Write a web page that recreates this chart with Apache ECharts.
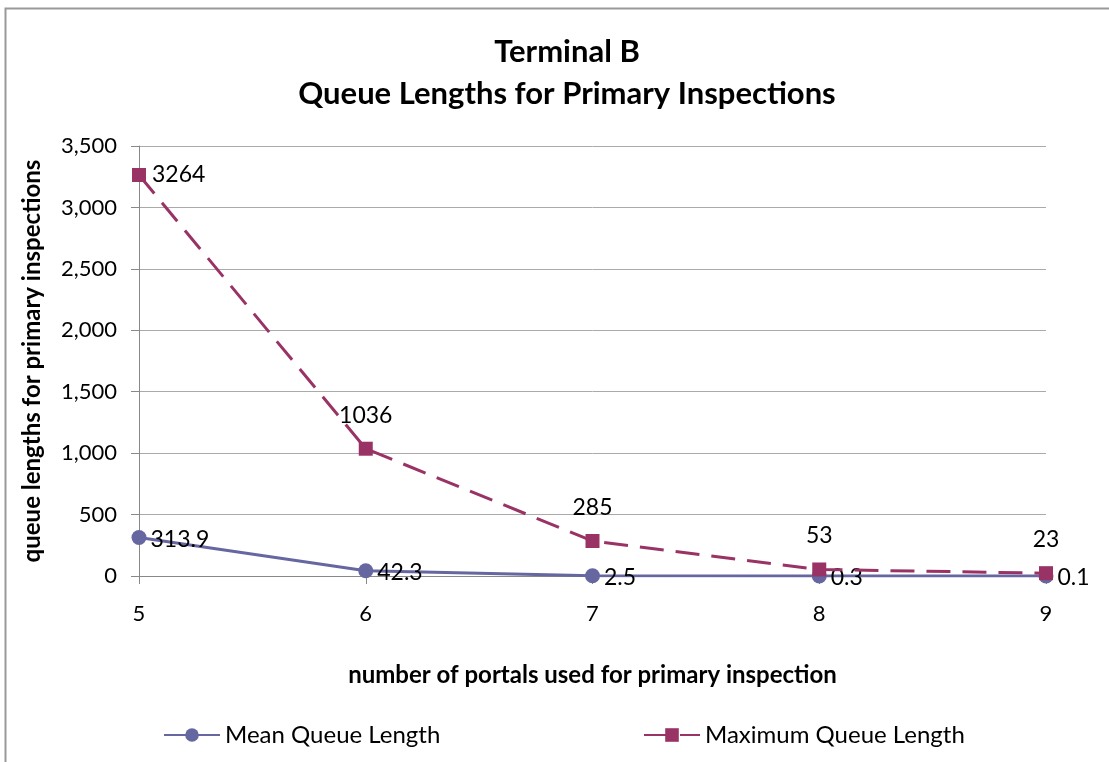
<!DOCTYPE html>
<html>
<head>
<meta charset="utf-8">
<script src="https://cdn.jsdelivr.net/npm/echarts@6/dist/echarts.min.js"></script>
<style>
  html, body { margin: 0; padding: 0; background: #fff; }
  #chart { width: 1109px; height: 762px; }
</style>
</head>
<body>
<div id="chart"></div>
<script>
const portals = ['5', '6', '7', '8', '9']
const meanQueue = [313.9, 42.3, 2.5, 0.3, 0.1]
const maxQueue = [3264, 1036, 285, 53, 23]
const yTicks = [0, 500, 1000, 1500, 2000, 2500, 3000, 3500]

const font = 'Lato, "Open Sans", sans-serif'
const meanColor = '#6667a0'
const maxColor = '#993366'

const chart = echarts.init(document.getElementById('chart'))

const option = {
  animation: false,
  backgroundColor: '#fff',
  textStyle: { fontFamily: font },
  title: {
    text: 'Terminal B\nQueue Lengths for Primary Inspections',
    left: 562,
    textAlign: 'center',
    top: 26,
    textStyle: { fontSize: 31, fontWeight: 'bold', color: '#000', lineHeight: 42, fontFamily: font },
  },
  graphic: [
    {
      type: 'rect',
      shape: { x: 5.5, y: 8.5, width: 1200, height: 900 },
      style: { fill: 'none', stroke: '#999', lineWidth: 2 },
      silent: true,
    },
  ],
  legend: [
    {
      data: ['Mean Queue Length'],
      left: 158,
      top: 718,
      itemWidth: 56,
      itemHeight: 17,
      itemGap: 8,
      textStyle: { fontSize: 24, color: '#000', fontFamily: font },
    },
    {
      data: ['Maximum Queue Length'],
      left: 638,
      top: 718,
      itemWidth: 56,
      itemHeight: 17,
      textStyle: { fontSize: 24, color: '#000', fontFamily: font },
    },
  ],
  grid: { left: 139, right: 63, top: 146, bottom: 186 },
  xAxis: {
    type: 'category',
    data: portals,
    boundaryGap: false,
    name: 'number of portals used for primary inspection',
    nameLocation: 'middle',
    nameGap: 87,
    nameTextStyle: { fontSize: 24, fontWeight: 'bold', color: '#000', fontFamily: font },
    axisLine: { lineStyle: { color: '#888', width: 1 } },
    axisTick: { show: true, length: 8, lineStyle: { color: '#888' } },
    axisLabel: { fontSize: 22, color: '#000', margin: 27 },
    splitLine: { show: false },
  },
  yAxis: {
    type: 'value',
    min: 0,
    max: 3500,
    interval: 500,
    name: 'queue lengths for primary inspections',
    nameLocation: 'middle',
    nameGap: 95,
    nameTextStyle: { fontSize: 24, fontWeight: 'bold', color: '#000', fontFamily: font },
    axisLine: { show: true, lineStyle: { color: '#888' } },
    axisTick: { show: true, length: 8, lineStyle: { color: '#888' } },
    axisLabel: {
      fontSize: 22,
      color: '#000',
      margin: 22,
      formatter: (v) => yTicks.includes(v) ? v.toLocaleString('en-US') : '',
    },
    splitLine: { lineStyle: { color: '#aaa', width: 1 } },
  },
  series: [
    {
      name: 'Mean Queue Length',
      type: 'line',
      data: meanQueue,
      color: meanColor,
      symbol: 'circle',
      symbolSize: 15,
      lineStyle: { color: meanColor, width: 3 },
      itemStyle: { color: meanColor },
      label: {
        show: true,
        position: 'right',
        distance: 4,
        fontSize: 23,
        color: '#000',
        offset: [0, 2],
      },
      z: 2,
    },
    {
      name: 'Maximum Queue Length',
      type: 'line',
      data: maxQueue.map((v, i) => ({
        value: v,
        label: i === 0
          ? { position: 'right', distance: 6, offset: [0, 0] }
          : { position: 'top', distance: 15 },
      })),
      color: maxColor,
      symbol: 'rect',
      symbolSize: 14,
      lineStyle: { color: maxColor, width: 3, type: [24, 12] },
      itemStyle: { color: maxColor },
      label: { show: true, fontSize: 23, color: '#000' },
      z: 3,
    },
  ],
}

chart.setOption(option)
</script>
</body>
</html>
